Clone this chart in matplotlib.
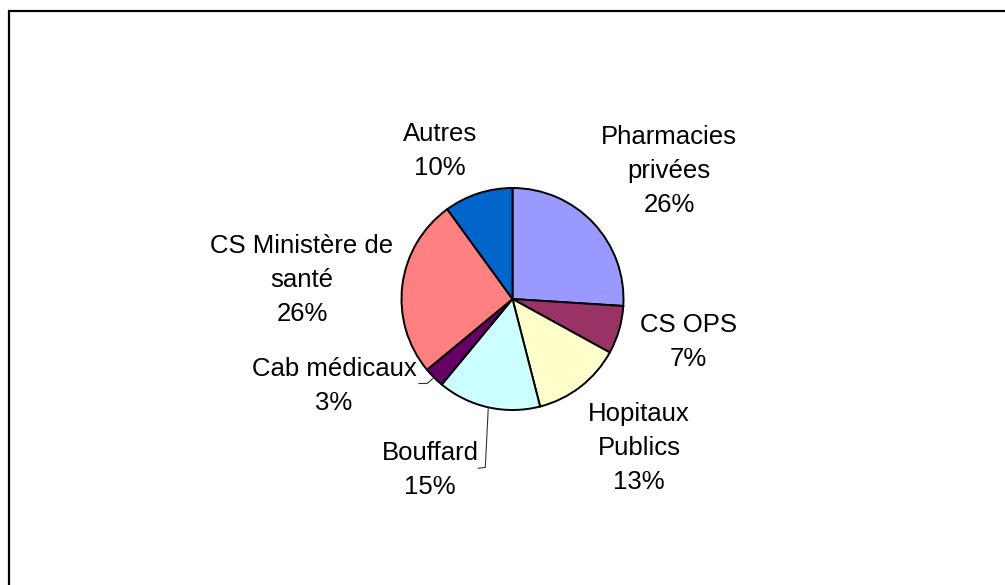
import numpy as np
import matplotlib
matplotlib.use("Agg")
import matplotlib.pyplot as plt
from matplotlib.patches import Rectangle

plt.rcParams['font.family'] = ['Liberation Sans', 'DejaVu Sans']

labels = ["Pharmacies\nprivées", "CS OPS", "Hopitaux\nPublics", "Bouffard",
          "Cab médicaux", "CS Ministère de\nsanté", "Autres"]
values = [26, 7, 13, 15, 3, 26, 10]
colors = ["#9999FF", "#993366", "#FFFFCC", "#CCFFFF", "#660066", "#FF8080", "#0066CC"]

W, H = 1005, 585
fig = plt.figure(figsize=(W / 100, H / 100), dpi=100)
fig.patch.set_facecolor("white")

# outer chart border (right/bottom edges run off the image)
fig.patches.append(Rectangle((9 / W, -0.05), 1.1, 1 - 11 / H + 0.05, transform=fig.transFigure,
                             fill=False, edgecolor="black", linewidth=1.6))

cx, cy, r = 512.5, 299, 111
ax = fig.add_axes([(cx - r) / W, (H - cy - r) / H, 2 * r / W, 2 * r / H])
wedges, _ = ax.pie(values, colors=colors, startangle=90, counterclock=False,
                   wedgeprops=dict(edgecolor="black", linewidth=1.4))
ax.set_xlim(-1, 1)
ax.set_ylim(-1, 1)
ax.set_aspect("equal")
ax.axis("off")

# label positions (pixel centers)
label_pos = [(669, 171), (688, 342), (639, 448), (430, 470), (334, 386), (302, 280), (440, 151)]
for lab, v, (x, y) in zip(labels, values, label_pos):
    fig.text(x / W, 1 - y / H, f"{lab}\n{v}%", ha="center", va="center",
             fontsize=18.5, linespacing=1.53, color="black")

# leader lines for Bouffard and Cab médicaux
def mid_angle(i):
    start = 90 - 3.6 * sum(values[:i])
    return np.deg2rad(start - 1.8 * values[i])

a = mid_angle(3)
x0, y0 = np.cos(a), np.sin(a)
ax.plot([x0, x0 - 3 / r, x0 - 10 / r], [y0, y0 - 60 / r, y0 - 61 / r],
        color="#333333", linewidth=0.8, clip_on=False)
a = mid_angle(4)
x0, y0 = np.cos(a), np.sin(a)
ax.plot([x0, x0 - 7 / r, x0 - 15 / r], [y0, y0 - 6 / r, y0 - 6 / r],
        color="#333333", linewidth=0.8, clip_on=False)

fig.savefig("out.png", dpi=100, facecolor="white")
